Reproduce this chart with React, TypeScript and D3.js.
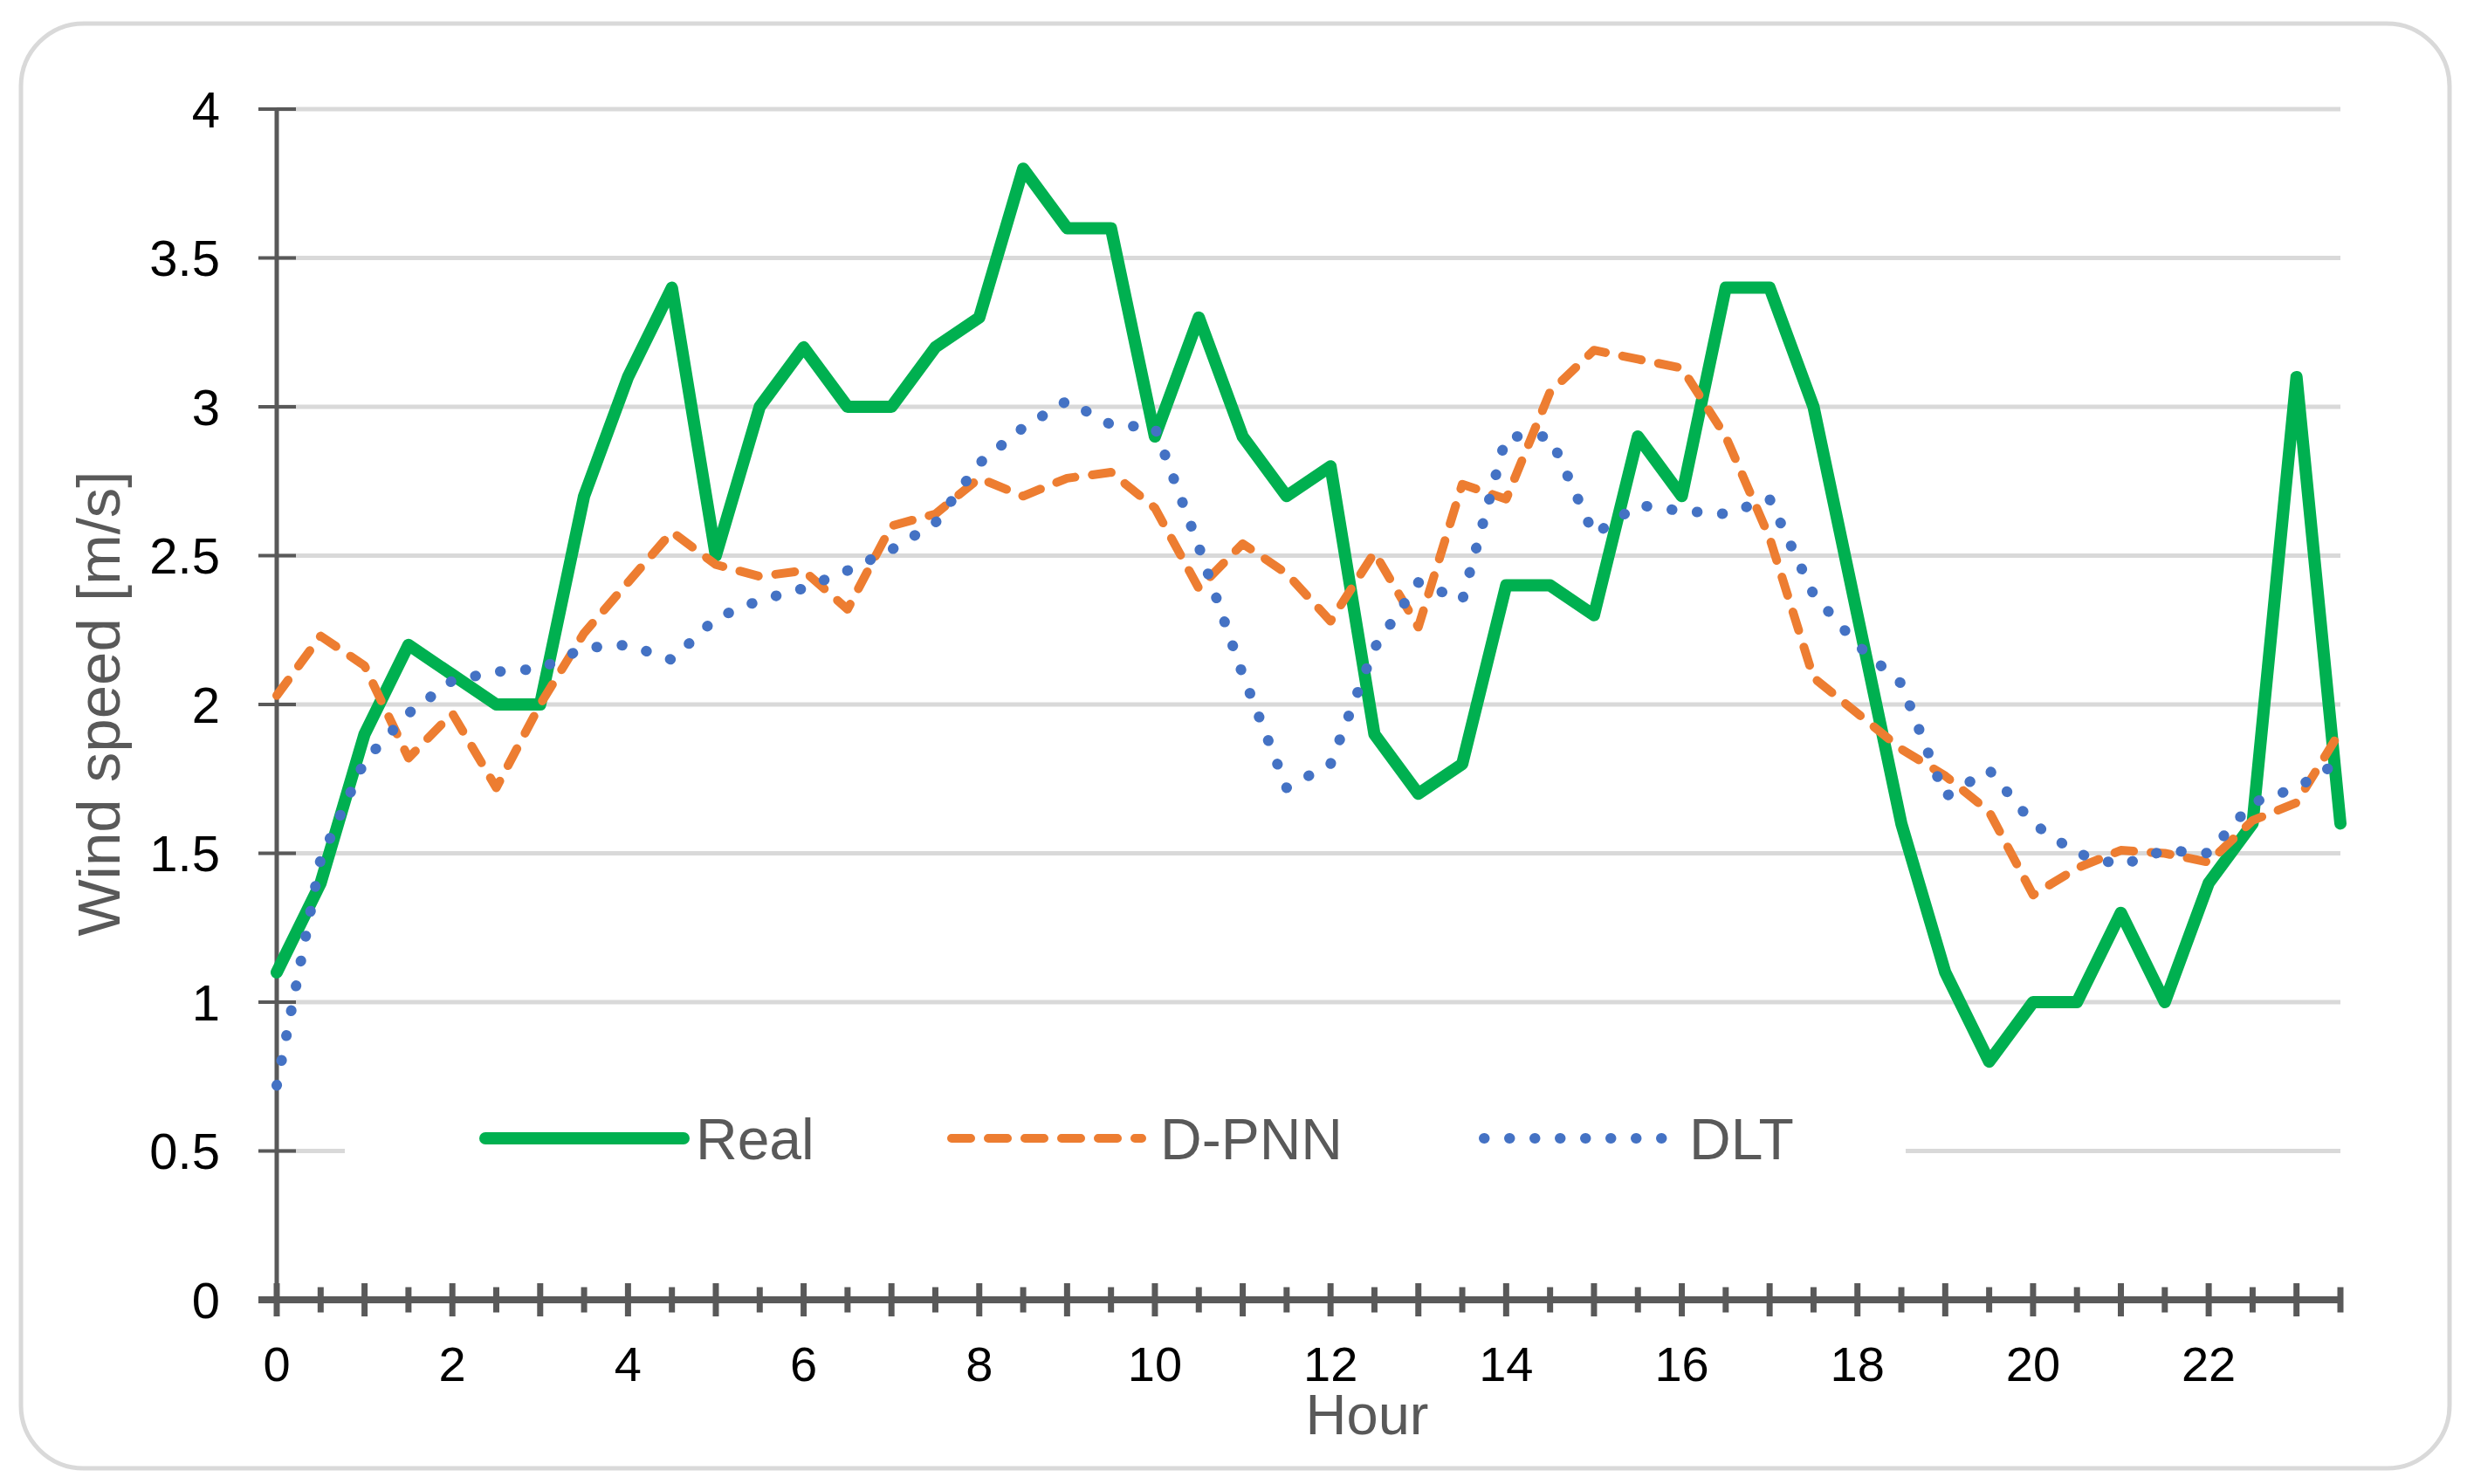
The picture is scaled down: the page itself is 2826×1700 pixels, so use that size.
import React from "react";
import * as d3 from "d3";

const hours = [
  0, 0.5, 1, 1.5, 2, 2.5, 3, 3.5, 4, 4.5, 5, 5.5, 6, 6.5, 7, 7.5, 8, 8.5, 9, 9.5,
  10, 10.5, 11, 11.5, 12, 12.5, 13, 13.5, 14, 14.5, 15, 15.5, 16, 16.5, 17, 17.5,
  18, 18.5, 19, 19.5, 20, 20.5, 21, 21.5, 22, 22.5, 23, 23.5,
];

const real = [
  1.1, 1.4, 1.9, 2.2, 2.1, 2.0, 2.0, 2.7, 3.1, 3.4,
  2.5, 3.0, 3.2, 3.0, 3.0, 3.2, 3.3, 3.8, 3.6, 3.6,
  2.9, 3.3, 2.9, 2.7, 2.8, 1.9, 1.7, 1.8, 2.4, 2.4,
  2.3, 2.9, 2.7, 3.4, 3.4, 3.0, 2.3, 1.6, 1.1, 0.8,
  1.0, 1.0, 1.3, 1.0, 1.4, 1.6, 3.1, 1.6,
];

const dpnn = [
  2.03, 2.23, 2.13, 1.82, 1.97, 1.72, 2.0, 2.24, 2.41, 2.58,
  2.47, 2.43, 2.45, 2.32, 2.6, 2.64, 2.76, 2.7, 2.76, 2.78,
  2.66, 2.39, 2.54, 2.44, 2.28, 2.51, 2.26, 2.74, 2.69, 3.05,
  3.19, 3.16, 3.13, 2.9, 2.56, 2.09, 1.97, 1.85, 1.76, 1.64,
  1.36, 1.45, 1.51, 1.5, 1.47, 1.61, 1.67, 1.91,
];

const dlt = [
  0.72, 1.48, 1.81, 1.97, 2.08, 2.11, 2.12, 2.19, 2.2, 2.15,
  2.29, 2.35, 2.39, 2.45, 2.52, 2.61, 2.81, 2.93, 3.02, 2.94,
  2.93, 2.53, 2.1, 1.72, 1.8, 2.19, 2.41, 2.35, 2.9, 2.9,
  2.57, 2.67, 2.65, 2.64, 2.69, 2.37, 2.2, 2.07, 1.69, 1.78,
  1.6, 1.5, 1.46, 1.51, 1.5, 1.67, 1.72, 1.81,
];

const yTicks = [0, 0.5, 1, 1.5, 2, 2.5, 3, 3.5, 4];
const xLabels = [0, 2, 4, 6, 8, 10, 12, 14, 16, 18, 20, 22];

const W = 2826;
const H = 1700;
const font = "'Liberation Sans', Arial, sans-serif";
const axisColor = "#595959";

const series = [
  { name: "Real", values: real, color: "#00B050", width: 14, dash: undefined as string | undefined, cap: "round" },
  { name: "D-PNN", values: dpnn, color: "#ED7D31", width: 10, dash: "22 20", cap: "round" },
  { name: "DLT", values: dlt, color: "#4472C4", width: 12, dash: "0.5 28.5", cap: "round" },
];

const App: React.FC = () => {
  const x = d3.scaleLinear().domain([0, 23.5]).range([317, 2681]);
  const y = d3.scaleLinear().domain([0, 4]).range([1489, 125]);

  const line = (vals: number[]) =>
    d3
      .line<number>()
      .x((_, i) => x(hours[i]))
      .y((d) => y(d))(vals) ?? "";

  const legendY = 1304;
  const legendItems = [
    { x1: 556, x2: 783, tx: 797 },
    { x1: 1090, x2: 1308, tx: 1329 },
    { x1: 1700, x2: 1906, tx: 1935 },
  ];

  return (
    <svg
      width={W}
      height={H}
      style={{ position: "absolute", left: 0, top: 0, background: "#fff" }}
    >
      <rect x={0} y={0} width={W} height={H} fill="#fff" />
      <rect
        x={24}
        y={27}
        width={2782}
        height={1655}
        rx={72}
        ry={72}
        fill="#fff"
        stroke="#d9d9d9"
        strokeWidth={5}
      />

      {/* gridlines */}
      {yTicks
        .filter((t) => t > 0)
        .map((t) => (
          <line
            key={"g" + t}
            x1={x(0)}
            x2={x(23.5)}
            y1={y(t)}
            y2={y(t)}
            stroke="#d9d9d9"
            strokeWidth={5}
          />
        ))}

      {/* y axis */}
      <line x1={x(0)} x2={x(0)} y1={y(4)} y2={y(0)} stroke={axisColor} strokeWidth={5} />
      {yTicks.map((t) => (
        <g key={"yt" + t}>
          <line x1={x(0) - 21} x2={x(0) + 22} y1={y(t)} y2={y(t)} stroke={axisColor} strokeWidth={4} />
          <text
            x={252}
            y={y(t)}
            dy="0.36em"
            textAnchor="end"
            fontFamily={font}
            fontSize={58}
            fill="#000"
          >
            {t}
          </text>
        </g>
      ))}

      {/* lines */}
      {series.map((s) => (
        <path
          key={s.name}
          d={line(s.values)}
          fill="none"
          stroke={s.color}
          strokeWidth={s.width}
          strokeDasharray={s.dash}
          strokeLinecap={s.cap as any}
          strokeLinejoin="round"
        />
      ))}

      {/* x axis */}
      <line x1={296} x2={x(23.5) + 3} y1={y(0)} y2={y(0)} stroke={axisColor} strokeWidth={8} />
      {hours.map((h) => {
        const major = Number.isInteger(h);
        const len = major ? 19 : 14.5;
        return (
          <line
            key={"xt" + h}
            x1={x(h)}
            x2={x(h)}
            y1={y(0) - len}
            y2={y(0) + len}
            stroke={axisColor}
            strokeWidth={7}
          />
        );
      })}
      {xLabels.map((h) => (
        <text
          key={"xl" + h}
          x={x(h)}
          y={1582}
          textAnchor="middle"
          fontFamily={font}
          fontSize={56}
          fill="#000"
        >
          {h}
        </text>
      ))}

      {/* axis titles */}
      <text
        x={1566}
        y={1643}
        textAnchor="middle"
        fontFamily={font}
        fontSize={65}
        fill={axisColor}
      >
        Hour
      </text>
      <text
        transform={`translate(${137},${806}) rotate(-90)`}
        textAnchor="middle"
        fontFamily={font}
        fontSize={69}
        fill={axisColor}
      >
        Wind speed [m/s]
      </text>

      {/* legend */}
      <rect x={395} y={1250} width={1788} height={115} fill="#fff" />
      {series.map((s, i) => {
        const it = legendItems[i];
        return (
          <g key={"lg" + s.name}>
            <line
              x1={it.x1}
              x2={it.x2}
              y1={legendY}
              y2={legendY}
              stroke={s.color}
              strokeWidth={s.width}
              strokeDasharray={s.dash}
              strokeLinecap={s.cap as any}
            />
            <text
              x={it.tx}
              y={legendY}
              dy="0.36em"
              fontFamily={font}
              fontSize={66}
              fill={axisColor}
            >
              {s.name}
            </text>
          </g>
        );
      })}
    </svg>
  );
};

export default App;
